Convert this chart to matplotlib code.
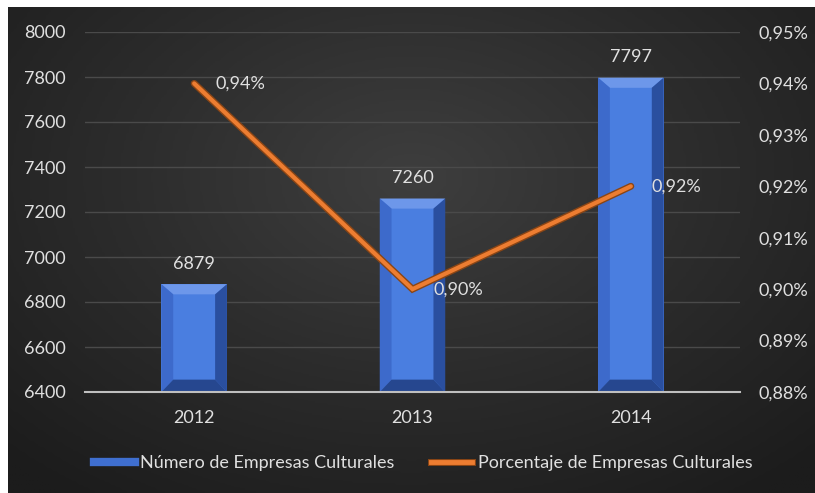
import numpy as np
import matplotlib
matplotlib.use("Agg")
from matplotlib import pyplot as plt
from matplotlib import patheffects as pe
from matplotlib.lines import Line2D
from matplotlib.patches import Polygon
from matplotlib.ticker import FuncFormatter

years = ["2012", "2013", "2014"]
empresas = [6879, 7260, 7797]
porcentaje = [0.94, 0.90, 0.92]
bar_name = "Número de Empresas Culturales"
line_name = "Porcentaje de Empresas Culturales"

text_col = "#e0e0e0"
orange = "#ed7d31"
font = "Lato"
fs = 13

plt.rcParams["font.family"] = [font, "DejaVu Sans"]

fig = plt.figure(figsize=(8.15, 4.93), dpi=100, facecolor="white")

# dark radial background (image starts a few px in from the left/top)
bg = fig.add_axes([8 / 815, 0, 1 - 8 / 815, 1 - 7 / 493])
bg.set_axis_off()
yy, xx = np.mgrid[-1:1:200j, -1:1:300j]
r = np.sqrt((xx * 0.9) ** 2 + ((yy + 0.3) * 0.8) ** 2)
bg.imshow(np.clip(r, 0, 1.3), cmap=matplotlib.colors.LinearSegmentedColormap.from_list(
    "bg", ["#3e3e3e", "#2c2c2c", "#1c1c1c"]), aspect="auto", extent=[0, 1, 0, 1])

ax = fig.add_axes([85 / 815, 1 - 392 / 493, (740 - 85) / 815, (392 - 32) / 493])
ax.patch.set_alpha(0)
ax.set_zorder(1)

x = np.arange(len(years))
width = 0.30
ax.set_xlim(-0.5, len(years) - 0.5)
ax.set_ylim(6400, 8000)
ax.set_yticks(np.arange(6400, 8001, 200))
ax.yaxis.grid(True, color="#4a4a4a", lw=1)
ax.set_axisbelow(True)

bars = ax.bar(x, [v - 6400 for v in empresas], width, bottom=6400, color="#4a7ee0", zorder=2)

# bevel on each bar, built from the bar geometry
dx = width * 0.18
dy_top, dy_bot = 45, 55
for b in bars:
    x0, x1 = b.get_x(), b.get_x() + b.get_width()
    y0, y1 = b.get_y(), b.get_y() + b.get_height()
    ix0, ix1, iy0, iy1 = x0 + dx, x1 - dx, y0 + dy_bot, y1 - dy_top
    faces = [
        ([(x0, y1), (x1, y1), (ix1, iy1), (ix0, iy1)], "#6d97ea"),
        ([(x0, y0), (x0, y1), (ix0, iy1), (ix0, iy0)], "#3d6acb"),
        ([(x1, y0), (x1, y1), (ix1, iy1), (ix1, iy0)], "#2a4f9f"),
        ([(x0, y0), (x1, y0), (ix1, iy0), (ix0, iy0)], "#26478f"),
    ]
    for pts, c in faces:
        ax.add_patch(Polygon(pts, closed=True, color=c, lw=0, zorder=2.5))
    ax.annotate(str(int(y1)), (b.get_x() + b.get_width() / 2, y1), xytext=(0, 9),
                textcoords="offset points", ha="center", va="bottom",
                color=text_col, fontsize=fs)

ax.set_xticks(x)
ax.set_xticklabels(years)
ax.tick_params(axis="x", length=0, pad=13, colors=text_col, labelsize=fs)
ax.tick_params(axis="y", length=0, pad=14, colors=text_col, labelsize=fs)
for s in ["top", "left", "right"]:
    ax.spines[s].set_visible(False)
ax.spines["bottom"].set_color("#bfbfbf")
ax.spines["bottom"].set_linewidth(1.5)
ax.spines["bottom"].set_zorder(3)

ax2 = ax.twinx()
ax2.set_ylim(0.88, 0.95)
ax2.set_yticks(np.arange(0.88, 0.951, 0.01))
ax2.yaxis.set_major_formatter(FuncFormatter(lambda v, p: f"{v:.2f}%".replace(".", ",")))
ax2.tick_params(axis="y", length=0, pad=13, colors=text_col, labelsize=fs)
for s in ax2.spines.values():
    s.set_visible(False)

stroke = [pe.Stroke(linewidth=5, foreground="#8a4515"), pe.Normal()]
ax2.plot(x, porcentaje, color=orange, lw=3, solid_capstyle="round",
         solid_joinstyle="miter", path_effects=stroke, zorder=4)
for xi, v in zip(x, porcentaje):
    ax2.annotate(f"{v:.2f}%".replace(".", ","), (xi, v), xytext=(15, 0),
                 textcoords="offset points", ha="left", va="center",
                 color=text_col, fontsize=fs)

handles = [
    Line2D([], [], color="#3f6fd0", lw=6),
    Line2D([], [], color=orange, lw=3.5, path_effects=stroke),
]
fig.legend(handles, [bar_name, line_name], loc="center",
           bbox_to_anchor=(423 / 815, 1 - 463 / 493), ncol=2, frameon=False,
           handlelength=2.3, handletextpad=0.3, columnspacing=2.0,
           labelcolor=text_col, fontsize=fs)

fig.savefig("out.png", dpi=100, facecolor="white")
